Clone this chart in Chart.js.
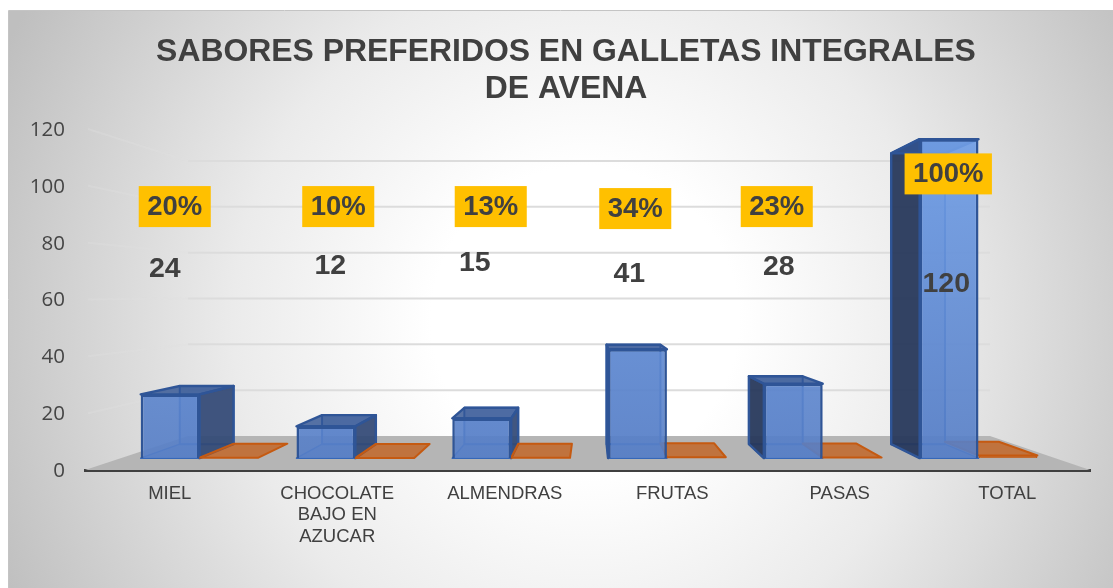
<!DOCTYPE html>
<html>
<head>
<meta charset="utf-8">
<style>html,body{margin:0;padding:0;background:#fff}canvas{display:block}</style>
<script src="https://cdn.jsdelivr.net/npm/chart.js@4/dist/chart.umd.min.js"></script>
</head>
<body>
<canvas id="c" width="1113" height="588"></canvas>
<script>
const titleLines = ['SABORES PREFERIDOS EN GALLETAS INTEGRALES', 'DE AVENA'];
const categories = ['MIEL', ['CHOCOLATE', 'BAJO EN', 'AZUCAR'], 'ALMENDRAS', 'FRUTAS', 'PASAS', 'TOTAL'];
const cantidad = [24, 12, 15, 41, 28, 120];
const porcentaje = [0.20, 0.10, 0.13, 0.34, 0.23, 1.00];
const porcentajeTexto = ['20%', '10%', '13%', '34%', '23%', '100%'];

// Hand-moved data labels: offset from the category tick, height in axis units
const valueLabelDx = [-4, -6, -29, -42, -60, -60];
const valueLabelAt = [71.1, 72.1, 73.2, 69.3, 71.8, 65.8];
const pctLabelDx = [6, 2, -13, -36, -62, -58];
const pctLabelAt = [92.7, 92.7, 92.7, 92.0, 92.7, 104.2];

// Pseudo-3D room: how the back wall sits relative to the front plane of the axes
const ROOM = { backLeft: 188, backRight: 990, backBottom: 436, backTop: 161 };
const DEPTH_FRONT = 1 / 3, DEPTH_BACK = 0.76, U_SHIFT = 0.0025;
const lerp = (a, b, t) => a + (b - a) * t;

function planeOf(area, d) {
  const p = {
    xL: lerp(area.left, ROOM.backLeft, d), xR: lerp(area.right, ROOM.backRight, d),
    yB: lerp(area.bottom, ROOM.backBottom, d), yT: lerp(area.top, ROOM.backTop, d)
  };
  if (d === DEPTH_FRONT) { p.xR -= 2.6; p.yB -= 0.5; p.yT -= 0.5; }
  if (d === DEPTH_BACK) { p.xL -= 3; }
  return p;
}
function project(area, X, Y, d) {
  const p = planeOf(area, d);
  const u = (X - area.left) / (area.right - area.left) + U_SHIFT;
  const w = (area.bottom - Y) / (area.bottom - area.top);
  return [p.xL + u * (p.xR - p.xL), p.yB + w * (p.yT - p.yB)];
}
function poly(ctx, pts, fill, stroke, lw) {
  ctx.beginPath();
  pts.forEach((p, i) => i ? ctx.lineTo(p[0], p[1]) : ctx.moveTo(p[0], p[1]));
  ctx.closePath();
  if (fill) { ctx.fillStyle = fill; ctx.fill(); }
  if (stroke) { ctx.strokeStyle = stroke; ctx.lineWidth = lw || 2; ctx.lineJoin = 'round'; ctx.stroke(); }
}
function corners(area, el) {
  const x0 = el.x - el.width / 2, x1 = el.x + el.width / 2, b = el.base, t = el.y;
  const at = d => ({
    bl: project(area, x0, b, d), br: project(area, x1, b, d),
    tl: project(area, x0, t, d), tr: project(area, x1, t, d)
  });
  return { f: at(DEPTH_FRONT), k: at(DEPTH_BACK) };
}

const roomPlugin = {
  id: 'room',
  afterLayout(chart) {
    // centre the title on the picture's own axis rather than the whole canvas
    if (chart.titleBlock) chart.titleBlock.left = 42;
  },
  beforeDraw(chart) {
    const ctx = chart.ctx, W = chart.width, H = chart.height;
    ctx.save();
    ctx.fillStyle = '#ffffff';
    ctx.fillRect(0, 0, W, H);
    const g = ctx.createRadialGradient(585, 320, 0, 585, 320, 640);
    g.addColorStop(0, '#ffffff');
    g.addColorStop(0.24, '#ffffff');
    g.addColorStop(0.55, '#ebebeb');
    g.addColorStop(1, '#bfbfbf');
    ctx.fillStyle = g;
    ctx.fillRect(9, 11, W - 9, H - 11);
    ctx.strokeStyle = '#c4c4c4';
    ctx.lineWidth = 1;
    ctx.beginPath();
    ctx.moveTo(8.5, H); ctx.lineTo(8.5, 10.5); ctx.lineTo(W, 10.5);
    ctx.stroke();
    ctx.restore();
  },
  beforeDatasetsDraw(chart) {
    const ctx = chart.ctx, a = chart.chartArea, ys = chart.scales.y;
    const back = planeOf(a, 1);
    ctx.save();
    // floor
    poly(ctx, [[a.left, a.bottom], [a.right, a.bottom], [back.xR, back.yB], [back.xL, back.yB]], '#b5b5b5');
    // gridlines: left wall + back wall
    ys.ticks.forEach(t => {
      if (t.value === 0) return;
      const Y = ys.getPixelForValue(t.value);
      const p = project(a, a.left, Y, 1);
      ctx.lineWidth = 2;
      ctx.strokeStyle = 'rgba(224,224,224,0.32)';
      ctx.beginPath(); ctx.moveTo(a.left + 3, Y); ctx.lineTo(back.xL, p[1]); ctx.stroke();
      ctx.strokeStyle = '#dcdcdc';
      ctx.beginPath(); ctx.moveTo(back.xL, p[1]); ctx.lineTo(back.xR, p[1]); ctx.stroke();
    });
    const blue = chart.getDatasetMeta(0).data, orange = chart.getDatasetMeta(1).data;
    const edge = '#2f5597';
    // blue boxes behind their front faces
    blue.forEach(el => {
      const { f, k } = corners(a, el);
      poly(ctx, [k.bl, k.br, k.tr, k.tl], 'rgba(68,114,196,0.30)', '#3567b8', 2);
      poly(ctx, [f.bl, f.br, k.br, k.bl], 'rgba(68,114,196,0.35)', '#3567b8', 1.5);
      if (k.bl[0] < f.bl[0] - 1) poly(ctx, [f.bl, k.bl, k.tl, f.tl], 'rgba(38,54,88,0.92)', edge, 2.4);
      if (k.br[0] > f.br[0] + 1) poly(ctx, [f.br, k.br, k.tr, f.tr], 'rgba(50,72,115,0.90)', edge, 2.4);
      poly(ctx, [f.tl, f.tr, k.tr, k.tl], 'rgba(50,84,146,0.82)', edge, 2.4);
    });
    // orange boxes: nearly flat on the floor
    orange.forEach(el => {
      const { f, k } = corners(a, el);
      poly(ctx, [f.tl, f.tr, k.tr, k.tl], 'rgba(197,90,17,0.72)', '#c55a11', 2);
    });
    ctx.restore();
  },
  beforeDatasetDraw(chart) {
    // The library's own bars are drawn on the plane where the front faces sit.
    const ctx = chart.ctx, a = chart.chartArea, p = planeOf(a, DEPTH_FRONT);
    const W = a.right - a.left, Ht = a.bottom - a.top;
    const sx = (p.xR - p.xL) / W, sy = (p.yB - p.yT) / Ht;
    ctx.save();
    ctx.transform(sx, 0, 0, sy, p.xL + (U_SHIFT - a.left / W) * (p.xR - p.xL), p.yB - a.bottom * sy);
  },
  afterDatasetDraw(chart) {
    chart.ctx.restore();
  },
  afterDatasetsDraw(chart) {
    const ctx = chart.ctx, xs = chart.scales.x, ys = chart.scales.y;
    ctx.save();
    ctx.textAlign = 'center';
    ctx.textBaseline = 'middle';
    const family = '"Liberation Sans", Arial, sans-serif';
    cantidad.forEach((v, i) => {
      ctx.font = 'bold 28.5px ' + family;
      ctx.fillStyle = '#404040';
      ctx.fillText(String(v), xs.getPixelForTick(i) + valueLabelDx[i], ys.getPixelForValue(valueLabelAt[i]) + 1);
    });
    porcentajeTexto.forEach((s, i) => {
      ctx.font = 'bold 27.5px ' + family;
      const cx = xs.getPixelForTick(i) + pctLabelDx[i], cy = ys.getPixelForValue(pctLabelAt[i]);
      const w = ctx.measureText(s).width + 17;
      ctx.fillStyle = '#ffc000';
      ctx.fillRect(cx - w / 2, cy - 20.5, w, 41);
      ctx.fillStyle = '#404040';
      ctx.fillText(s, cx, cy + 1);
    });
    ctx.restore();
  }
};

function blueFront(c) {
  const a = c.chart.chartArea;
  if (!a) return '#5b84c8';
  const g = c.chart.ctx.createLinearGradient(0, a.top, 0, a.bottom);
  g.addColorStop(0, 'rgba(112,158,230,0.92)');
  g.addColorStop(1, 'rgba(86,126,198,0.90)');
  return g;
}

new Chart(document.getElementById('c'), {
  type: 'bar',
  data: {
    labels: categories,
    datasets: [
      { label: 'Cantidad', data: cantidad, backgroundColor: blueFront, borderColor: '#2f5597', borderWidth: 2.8, categoryPercentage: 0.756, barPercentage: 1 },
      { label: 'Porcentaje', data: porcentaje, backgroundColor: 'rgba(197,90,17,0.8)', borderColor: '#c55a11', borderWidth: 2.2, categoryPercentage: 0.756, barPercentage: 1 }
    ]
  },
  options: {
    responsive: false,
    animation: false,
    layout: { padding: { left: 0, right: 23, top: 0, bottom: 0 } },
    plugins: {
      legend: { display: false },
      tooltip: { enabled: false },
      title: {
        display: true,
        text: titleLines,
        color: '#404040',
        font: { family: '"Liberation Sans", Arial, sans-serif', size: 31.9, weight: 'bold', lineHeight: 37 / 31.9 },
        padding: { top: 34, bottom: 21 }
      }
    },
    scales: {
      x: {
        afterFit(s) { s.height = 118; },
        grid: { display: false },
        border: { display: true, color: '#404040', width: 3 },
        ticks: {
          autoSkip: false, maxRotation: 0, minRotation: 0, padding: 5, labelOffset: 1,
          color: '#404040',
          font: { family: '"Liberation Sans", Arial, sans-serif', size: 18.5, lineHeight: 1.16 }
        }
      },
      y: {
        min: 0, max: 120,
        afterFit(s) { s.width = 85; },
        grid: { display: false },
        border: { display: false },
        ticks: {
          stepSize: 20, padding: 12, labelOffset: 1,
          color: '#454545',
          font: { family: '"Open Sans", sans-serif', size: 20.5 }
        }
      }
    }
  },
  plugins: [roomPlugin]
});
</script>
</body>
</html>
